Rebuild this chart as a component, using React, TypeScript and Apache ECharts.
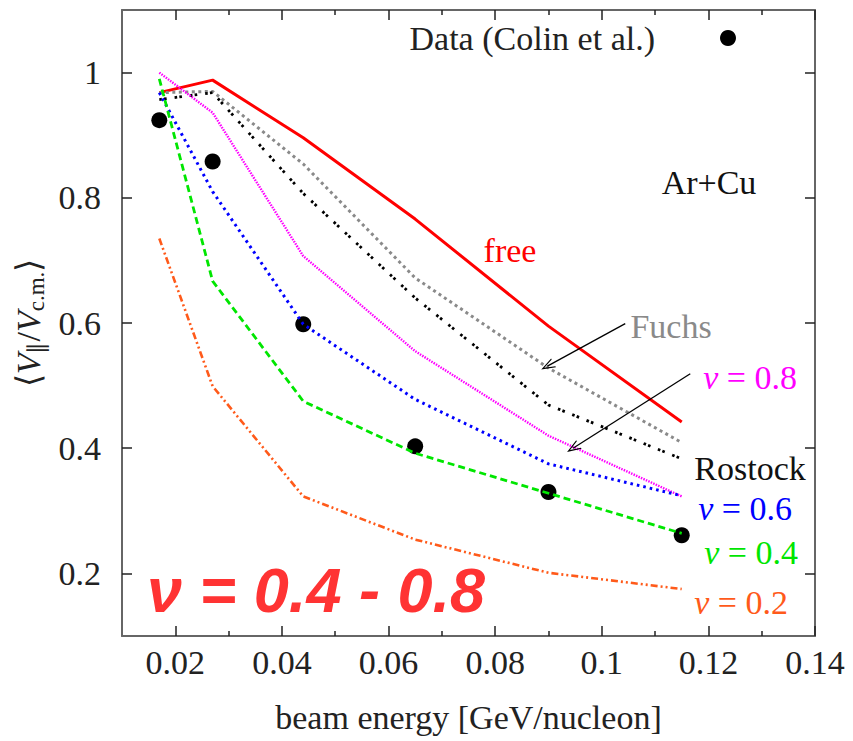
import React, { useEffect, useRef } from "react";
import * as echarts from "echarts";

// ---- data ----
const ENERGY = [0.017, 0.027, 0.044, 0.065, 0.09, 0.115];
const DATA_COLIN = [0.924, 0.858, 0.598, 0.403, 0.33, 0.261];
const FREE = [0.968, 0.988, 0.896, 0.766, 0.595, 0.442];
const FUCHS = [0.968, 0.97, 0.854, 0.672, 0.528, 0.409];
const ROSTOCK = [0.957, 0.968, 0.807, 0.64, 0.469, 0.383];
const NU08 = [1.0, 0.936, 0.707, 0.555, 0.42, 0.323];
const NU06 = [0.968, 0.81, 0.598, 0.478, 0.375, 0.324];
const NU04 = [0.99, 0.667, 0.475, 0.392, 0.328, 0.264];
const NU02 = [0.735, 0.499, 0.323, 0.254, 0.201, 0.175];

const X_MAJOR = [0.02, 0.04, 0.06, 0.08, 0.1, 0.12, 0.14];
const X_MINOR = [0.03, 0.05, 0.07, 0.09, 0.11, 0.13];
const Y_TICKS = [0.2, 0.4, 0.6, 0.8, 1];

// arrows (data coords): [tail, head]
const ARROW_FUCHS = [[0.1044, 0.599], [0.0898, 0.531]];
const ARROW_NU08 = [[0.1166, 0.519], [0.0946, 0.4]];

const SERIF = "Liberation Serif";
const FS = 34;

const pairs = (ys: number[]) => ENERGY.map((x, i) => [x, ys[i]]);

const arrowHead = "path://M0,12 L5,0 L10,12 L8.8,12 L5,3 L1.2,12 Z";

function line(name: string, ys: number[], color: string, width: number, type: any) {
  return {
    name,
    type: "line",
    data: pairs(ys),
    symbol: "none",
    lineStyle: { color, width, type, cap: "butt" },
    itemStyle: { color },
    z: 3,
  };
}

function arrowLine(a: number[][]) {
  return [
    { coord: a[0], symbol: "none" },
    { coord: a[1], symbol: arrowHead, symbolSize: [10, 14] },
  ];
}

function label(text: string, x: number, y: number, fill: string) {
  return {
    type: "text",
    x,
    y,
    style: {
      text,
      fill,
      fontFamily: SERIF,
      fontSize: FS,
      textAlign: "center",
      textVerticalAlign: "middle",
      rich: {
        i: { fontFamily: SERIF, fontSize: FS, fontStyle: "italic", fill },
        n: { fontFamily: SERIF, fontSize: FS, fill },
      },
    },
  };
}

export default function App() {
  const ref = useRef<HTMLDivElement>(null);
  useEffect(() => {
    document.body.style.margin = "0";
    const chart = echarts.init(ref.current!, null, { renderer: "svg" });
    const xCommon = { type: "value", min: 0.01, max: 0.14, splitLine: { show: false } };
    const yCommon = { type: "value", min: 0.1, max: 1.1, splitLine: { show: false } };
    const frame = { show: true, lineStyle: { color: "#666", width: 2 } };
    const tickStyle = { color: "#222", width: 1.5 };
    const txt = { fontFamily: SERIF, fontSize: FS, color: "#222" };
    chart.setOption({
      animation: false,
      backgroundColor: "#fff",
      textStyle: { fontFamily: SERIF },
      grid: { left: 122, right: 38, top: 10, bottom: 105 },
      legend: {
        data: [{ name: "Data (Colin et al.)", icon: "circle" }],
        align: "right",
        right: 112,
        top: 16,
        itemWidth: 16,
        itemHeight: 16,
        textStyle: { ...txt, padding: [0, 60, 0, 0] },
        selectedMode: false,
      },
      xAxis: [
        {
          ...xCommon,
          position: "bottom",
          axisLine: frame,
          axisTick: { show: true, inside: true, length: 10, customValues: X_MAJOR, lineStyle: tickStyle },
          axisLabel: { customValues: X_MAJOR, ...txt, margin: 9 },
          name: "beam energy [GeV/nucleon]",
          nameLocation: "middle",
          nameGap: 64,
          nameTextStyle: txt,
        },
        {
          ...xCommon,
          position: "bottom",
          axisLine: { show: false },
          axisTick: { show: true, inside: true, length: 5, customValues: X_MINOR, lineStyle: tickStyle },
          axisLabel: { show: false },
        },
        {
          ...xCommon,
          position: "top",
          axisLine: frame,
          axisTick: { show: true, inside: true, length: 10, customValues: X_MAJOR, lineStyle: tickStyle },
          axisLabel: { show: false },
        },
        {
          ...xCommon,
          position: "top",
          axisLine: { show: false },
          axisTick: { show: true, inside: true, length: 5, customValues: X_MINOR, lineStyle: tickStyle },
          axisLabel: { show: false },
        },
      ],
      yAxis: [
        {
          ...yCommon,
          position: "left",
          axisLine: frame,
          axisTick: { show: true, inside: true, length: 10, customValues: Y_TICKS, lineStyle: tickStyle },
          axisLabel: { customValues: Y_TICKS, ...txt, margin: 21 },
          name: "{a|⟨}{v|V}{s|∥}{a|/}{v|V}{s|c.m.}{a|⟩}",
          nameLocation: "middle",
          nameRotate: 90,
          nameGap: 74,
          nameTextStyle: {
            ...txt,
            rich: {
              a: { ...txt },
              v: { ...txt, fontStyle: "italic" },
              s: { fontFamily: SERIF, fontSize: 23, color: "#222", padding: [16, 0, 0, 0] },
            },
          },
        },
        {
          ...yCommon,
          position: "right",
          axisLine: frame,
          axisTick: { show: true, inside: true, length: 10, customValues: Y_TICKS, lineStyle: tickStyle },
          axisLabel: { show: false },
        },
      ],
      series: [
        {
          name: "Data (Colin et al.)",
          type: "scatter",
          data: pairs(DATA_COLIN),
          symbol: "circle",
          symbolSize: 16,
          itemStyle: { color: "#000", opacity: 1 },
          z: 2,
        },
        {
          ...line("free", FREE, "#ff0000", 3, "solid"),
          markLine: {
            silent: true,
            symbol: "none",
            lineStyle: { color: "#000", width: 1.3, type: "solid" },
            label: { show: false },
            data: [arrowLine(ARROW_FUCHS), arrowLine(ARROW_NU08)],
          },
        },
        line("Fuchs", FUCHS, "#8a8a8a", 3, [3, 3.5]),
        line("Rostock", ROSTOCK, "#000", 2.8, [2.6, 2.2, 2.6, 8]),
        line("nu08", NU08, "#ff00ff", 2.4, [1.5, 1.2]),
        line("nu06", NU06, "#0000ff", 3, [2.6, 4]),
        line("nu04", NU04, "#00e600", 2.8, [7, 4]),
        line("nu02", NU02, "#ff5a1a", 2.6, [7, 3, 2, 3, 2, 3]),
      ],
      graphic: [
        label("free", 510, 250, "#ff0000"),
        label("Fuchs", 671, 326, "#8a8a8a"),
        label("Ar+Cu", 709, 182, "#111"),
        label("{i|ν}{n| = 0.8}", 750, 377, "#ff00ff"),
        label("Rostock", 750, 468, "#111"),
        label("{i|ν}{n| = 0.6}", 745, 508, "#0000ff"),
        label("{i|ν}{n| = 0.4}", 751, 552, "#00e600"),
        label("{i|ν}{n| = 0.2}", 741, 602, "#ff5a1a"),
        {
          type: "text",
          x: 147,
          y: 590,
          style: {
            text: "ν = 0.4 - 0.8",
            fill: "#ff3333",
            fontFamily: "Liberation Sans",
            fontSize: 63,
            fontWeight: "bold",
            fontStyle: "italic",
            textAlign: "left",
            textVerticalAlign: "middle",
          },
        },
      ],
    });
    return () => chart.dispose();
  }, []);
  return <div ref={ref} style={{ position: "absolute", left: 0, top: 0, width: 853, height: 741 }} />;
}
